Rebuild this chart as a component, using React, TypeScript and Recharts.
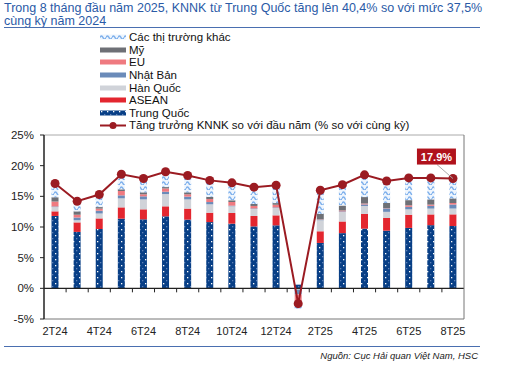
import { ComposedChart, Bar, Line, XAxis, YAxis, ReferenceLine, LabelList } from "recharts";

const months = [
  "2T24", "3T24", "4T24", "5T24", "6T24", "7T24", "8T24", "9T24", "10T24", "11T24", "12T24",
  "1T25", "2T25", "3T25", "4T25", "5T25", "6T25", "7T25", "8T25",
];
const trungQuoc = [11.8, 9.2, 9.67, 11.36, 11.25, 11.74, 11.2, 10.8, 10.54, 10.1, 10.27, 0.6, 7.4, 9.0, 9.73, 9.4, 9.85, 10.3, 10.16];
const asean = [0.75, 1.55, 1.73, 1.84, 1.63, 1.63, 1.8, 1.53, 1.74, 1.7, 1.63, 0, 1.9, 1.9, 2.4, 2.07, 2.15, 1.75, 1.9];
const hanQuoc = [0.7, 0.35, 0.8, 1.47, 1.62, 2.0, 1.5, 1.37, 1.1, 1.13, 1.2, -0.2, 1.8, 1.55, 1.3, 1.0, 0.88, 0.95, 0.95];
const nhatBan = [0.1, 0.45, 0.45, 0.49, 0.5, 0.38, 0.45, 0.37, 0.1, 0.1, 0.1, -0.8, 0.1, 0.1, 0.25, 0.55, 0.4, 0.45, 0.65];
const eu = [0.8, 0.45, 0.35, 0.71, 0.33, 0.54, 0.38, 0.49, 0.6, 0.4, 0.43, -1.1, 0.05, 0.15, 0.15, 0.05, 0.25, 0.2, 0.25];
const my = [0.7, 0.55, 0.25, 0.27, 0.32, 0.22, 0.32, 0.34, 0.28, 0.33, 0.27, -0.6, 0.9, 0.8, 1.05, 0.85, 0.85, 0.85, 0.75];
const khac = [2.35, 2.0, 2.4, 2.56, 2.6, 2.6, 2.75, 2.7, 2.7, 2.75, 3.0, -0.6, 3.9, 3.6, 3.4, 3.4, 3.55, 3.4, 3.35];
const tangTruong = [17.1, 14.2, 15.3, 18.6, 17.9, 19.0, 18.4, 17.6, 17.2, 16.5, 16.8, -2.5, 16.0, 16.9, 18.5, 17.5, 18.0, 18.0, 17.9];
const yTicks = [-5, 0, 5, 10, 15, 20, 25];

const data = months.map((m, i) => ({
  m,
  tq: trungQuoc[i],
  asean: asean[i],
  hq: hanQuoc[i],
  nb: nhatBan[i],
  eu: eu[i],
  my: my[i],
  khac: khac[i],
  line: tangTruong[i],
}));

const FONT = "'Liberation Sans', Arial, sans-serif";
const LINE_COLOR = "#9b1b22";

// plot box (used for the small ticks on the zero line)
const PLOT_LEFT = 44;
const PLOT_RIGHT = 464;
const PLOT_TOP = 135;
const PLOT_BOTTOM = 319;
const ZERO_Y = PLOT_TOP + ((PLOT_BOTTOM - PLOT_TOP) * 25) / 30;
const BAND = (PLOT_RIGHT - PLOT_LEFT) / months.length;

const legendItems = [
  { name: "Các thị trường khác", fill: "url(#wave)" },
  { name: "Mỹ", fill: "#6e7076" },
  { name: "EU", fill: "#ef7a80" },
  { name: "Nhật Bản", fill: "#6b8bb9" },
  { name: "Hàn Quốc", fill: "#d0d3d9" },
  { name: "ASEAN", fill: "#e3262f" },
  { name: "Trung Quốc", fill: "url(#dots)" },
];

const XTick = (props: any) => {
  const { x, y, payload, index } = props;
  return (
    <g>
      {index < months.length - 1 && (
        <line x1={x + BAND / 2} x2={x + BAND / 2} y1={ZERO_Y} y2={ZERO_Y + 4} stroke="#222" strokeWidth={1} />
      )}
      {index % 2 === 0 && (
        <text x={x} y={y} dy="0.71em" textAnchor="middle" fontSize={11} fontFamily={FONT} fill="#222">
          {payload.value}
        </text>
      )}
    </g>
  );
};

const LastLabel = (props: any) => {
  const { x, y, index, value } = props;
  if (index !== months.length - 1) return null;
  const bx = x - 36;
  const by = y - 30;
  return (
    <g>
      <line x1={bx + 20} y1={by + 16} x2={x} y2={y} stroke="#aaa" strokeWidth={1} />
      <rect x={bx} y={by} width={39} height={16} fill="#b0121c" />
      <text x={bx + 19.5} y={by + 12} textAnchor="middle" fontSize={11} fontWeight="bold" fontFamily={FONT} fill="#fff">
        {value.toFixed(1)}%
      </text>
    </g>
  );
};

const Swatches = () => (
  <svg width={0} height={0} style={{ position: "absolute" }}>
    <defs>
      <pattern id="dots" width="6" height="6" patternUnits="userSpaceOnUse">
        <rect width="6" height="6" fill="#083f86" />
        <rect x="1" y="1" width="1.3" height="1.3" fill="#ffffff" />
        <rect x="4" y="4" width="1.3" height="1.3" fill="#5f82b8" />
      </pattern>
      <pattern id="wave" width="6" height="5" patternUnits="userSpaceOnUse">
        <rect width="6" height="5" fill="#eef5fd" />
        <path d="M0 3.5 Q1.5 0.3 3 3.5 T6 3.5" fill="none" stroke="#7eb0ec" strokeWidth="1.5" />
      </pattern>
    </defs>
  </svg>
);

export default function App() {
  return (
    <div style={{ position: "absolute", left: 0, top: 0, width: 512, height: 369, background: "#fff", fontFamily: FONT, overflow: "hidden" }}>
      <Swatches />
      <div style={{ position: "absolute", left: 4, top: 2, width: 490, fontSize: 12.5, lineHeight: "12.5px", color: "#2a5aa6" }}>
        Trong 8 tháng đầu năm 2025, KNNK từ Trung Quốc tăng lên 40,4% so với mức 37,5%
        <br />
        cùng kỳ năm 2024
      </div>
      <div style={{ position: "absolute", left: 4, top: 27, width: 476, height: 1, background: "#4a6fb0" }} />

      <div style={{ position: "absolute", left: 100, top: 31 }}>
        {legendItems.map((it) => (
          <div key={it.name} style={{ display: "flex", alignItems: "center", height: 12.6 }}>
            <svg width={27} height={6}>
              <rect x={0} y={0.5} width={26} height={5} fill={it.fill} />
            </svg>
            <span style={{ fontSize: 11.5, color: "#111", marginLeft: 2 }}>{it.name}</span>
          </div>
        ))}
        <div style={{ display: "flex", alignItems: "center", height: 12.6 }}>
          <svg width={27} height={9}>
            <line x1={0} y1={4.5} x2={26} y2={4.5} stroke={LINE_COLOR} strokeWidth={2} />
            <circle cx={13} cy={4.5} r={3.5} fill={LINE_COLOR} />
          </svg>
          <span style={{ fontSize: 11.5, color: "#111", marginLeft: 2 }}>Tăng trưởng KNNK so với đầu năm (% so với cùng kỳ)</span>
        </div>
      </div>

      <div style={{ position: "absolute", left: 0, top: 0 }}>
        <ComposedChart
          width={512}
          height={369}
          data={data}
          stackOffset="sign"
          barCategoryGap="34%"
          margin={{ top: PLOT_TOP, right: 512 - PLOT_RIGHT - 1, bottom: 20, left: 8 }}
        >
          <XAxis
            dataKey="m"
            interval={0}
            tickLine={false}
            axisLine={{ stroke: "#777", strokeWidth: 1 }}
            height={30}
            tick={<XTick />}
          />
          <YAxis
            domain={[-5, 25]}
            ticks={yTicks}
            allowDataOverflow
            width={36}
            tickSize={4}
            tickMargin={6}
            tickFormatter={(v: number) => `${v}%`}
            axisLine={{ stroke: "#222", strokeWidth: 1.5 }}
            tickLine={{ stroke: "#222" }}
            tick={{ fontSize: 11.5, fill: "#222", fontFamily: FONT }}
          />
          <YAxis yAxisId="r" orientation="right" domain={[-5, 25]} width={1} tick={false} tickLine={false} axisLine={{ stroke: "#777", strokeWidth: 1 }} />
          <ReferenceLine y={25} stroke="#aaa" strokeWidth={1} />
          <ReferenceLine y={0} stroke="#222" strokeWidth={1.2} />
          <Bar dataKey="tq" stackId="a" fill="url(#dots)" isAnimationActive={false} />
          <Bar dataKey="asean" stackId="a" fill="#e3262f" isAnimationActive={false} />
          <Bar dataKey="hq" stackId="a" fill="#d0d3d9" isAnimationActive={false} />
          <Bar dataKey="nb" stackId="a" fill="#6b8bb9" isAnimationActive={false} />
          <Bar dataKey="eu" stackId="a" fill="#ef7a80" isAnimationActive={false} />
          <Bar dataKey="my" stackId="a" fill="#6e7076" isAnimationActive={false} />
          <Bar dataKey="khac" stackId="a" fill="url(#wave)" isAnimationActive={false} />
          <Line
            dataKey="line"
            stroke={LINE_COLOR}
            strokeWidth={2}
            dot={{ r: 4.5, fill: LINE_COLOR, stroke: LINE_COLOR, strokeWidth: 0 }}
            isAnimationActive={false}
          >
            <LabelList dataKey="line" content={<LastLabel />} />
          </Line>
        </ComposedChart>
      </div>

      <div style={{ position: "absolute", left: 4, top: 346, width: 476, height: 1, background: "#4a6fb0" }} />
      <div style={{ position: "absolute", right: 34, top: 350, fontSize: 9.5, fontStyle: "italic", color: "#222" }}>
        Nguồn: Cục Hải quan Việt Nam, HSC
      </div>
    </div>
  );
}
